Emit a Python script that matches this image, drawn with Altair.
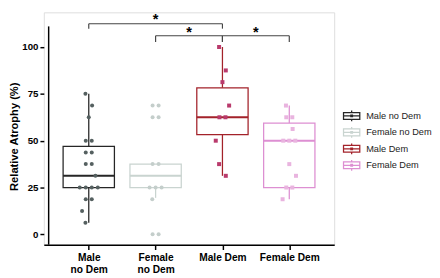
import altair as alt
import pandas as pd

# ---- data ----
groups = ["Male no Dem", "Female no Dem", "Male Dem", "Female Dem"]
tick_labels = [["Male", "no Dem"], ["Female", "no Dem"], ["Male Dem"], ["Female Dem"]]

male_nodem = [75, 68.75, 62.5, 50, 50, 43.75, 43.75, 37.5, 37.5, 31.25,
              25, 25, 25, 25, 18.75, 18.75, 12.5, 6.25]
female_nodem = [68.75, 68.75, 62.5, 62.5, 37.5, 37.5, 25, 25, 25, 18.75, 0, 0]
male_dem = [100, 87.5, 81.25, 68.75, 62.5, 62.5, 50, 37.5, 31.25]
female_dem = [68.75, 62.5, 62.5, 56.25, 50, 50, 50, 37.5, 31.25, 25, 25, 18.75]

q1 = [25, 25, 53.3, 25]
median = [31.25, 31.25, 62.5, 50]
q3 = [47, 37.5, 78.2, 59.4]
whisk_lo = [6.25, 19.5, 31.25, 18.75]
whisk_hi = [75, 37.5, 100, 68.75]

box_colors = ["#262626", "#c9d4d0", "#a3222a", "#dd8fd2"]
point_colors = ["#556060", "#c4cecb", "#b93a6c", "#e9b4df"]
point_shapes = ["circle", "circle", "square", "square"]

# significance brackets (group index from, to, height)
br_from = [0, 1, 2]
br_to = [2, 2, 3]
br_y = [112.4, 106, 106]
br_drop = [2.6, 3.3, 3.3]
star_y = [114.6, 108.0, 108.0]
star_label = ["*", "*", "*"]

x_dom = [-0.6, 3.6]
y_dom = [-5.5, 118.5]
y_axis_top = 111

FONT = "Liberation Sans"

# ---- tables ----
rows = []
for gi, vals in enumerate([male_nodem, female_nodem, male_dem, female_dem]):
    counts = {}
    for v in vals:
        counts[v] = counts.get(v, 0) + 1
    seen = {}
    single_k = 0
    for v in vals:
        k = counts[v]
        j = seen.get(v, 0)
        seen[v] = j + 1
        if k == 1:
            off = [-0.05, 0.05, 0.0, 0.1, -0.1][single_k % 5]
            single_k += 1
        else:
            off = (j - (k - 1) / 2) * 0.09
        rows.append({"xj": gi + off, "value": v,
                     "pc": point_colors[gi], "ps": point_shapes[gi]})
pts = pd.DataFrame(rows)

box = pd.DataFrame({"group": groups, "xi": list(range(4)), "q1": q1, "median": median,
                    "q3": q3, "lo": whisk_lo, "hi": whisk_hi})

hl = pd.DataFrame({"x": br_from, "x2": br_to, "y": br_y})
vl_rows = []
for a, b, y, d in zip(br_from, br_to, br_y, br_drop):
    vl_rows.append({"x": a, "y": y, "y2": y - d})
    vl_rows.append({"x": b, "y": y, "y2": y - d})
vl = pd.DataFrame(vl_rows)
stars = pd.DataFrame({"x": [(a + b) / 2 for a, b in zip(br_from, br_to)],
                      "y": star_y, "t": star_label})

label_expr = " : ".join(
    f"datum.value == {i} ? {repr(lab) if len(lab) > 1 else repr(lab[0])}"
    for i, lab in enumerate(tick_labels[:-1])
) + f" : {repr(tick_labels[-1][0])}"

xscale = alt.Scale(domain=x_dom, nice=False, zero=False)
yscale = alt.Scale(domain=y_dom, nice=False, zero=False)
xaxis = alt.Axis(values=[0, 1, 2, 3], labelExpr=label_expr, title=None, grid=False,
                 labelFontWeight="bold", labelFontSize=10.5, labelColor="black",
                 labelLineHeight=13, labelPadding=3, tickColor="black", tickSize=5,
                 tickWidth=1.5, domainColor="black", domainWidth=1.5)
yaxis = alt.Axis(values=[0, 25, 50, 75, 100], title="Relative Atrophy (%)", grid=False,
                 titleFontSize=11.5, titleFontWeight="bold", titleColor="black",
                 titleY=128, titleAnchor="middle",
                 labelFontWeight="bold", labelFontSize=10, labelColor="black",
                 labelPadding=2, tickColor="black", tickSize=4, tickWidth=1.5,
                 domain=False, titlePadding=3)

color = alt.Color("group:N", scale=alt.Scale(domain=groups, range=box_colors),
                  legend=alt.Legend(title=None, orient="none", legendX=310, legendY=99,
                                    symbolType="M-1.2,-0.5H1.2V0.5H-1.2Z M-1.2,0H1.2 M0,-0.5V-0.8 M0,0.5V0.8 M-0.12,-0.12H0.12V0.12H-0.12Z",
                                    symbolSize=196, symbolStrokeWidth=1.3,
                                    symbolFillColor="transparent",
                                    labelFontSize=9.5, labelColor="#222", labelFont=FONT,
                                    labelOffset=7, rowPadding=-4))

base = alt.Chart(box)
whisk = base.mark_rule(strokeWidth=1.3).encode(
    x=alt.X("xi:Q", scale=xscale, axis=xaxis),
    y=alt.Y("lo:Q", scale=yscale, axis=yaxis), y2="hi:Q", color=color)
boxes = base.mark_bar(size=53, filled=False, strokeWidth=1.3, fill="white").encode(
    x="xi:Q", y="q1:Q", y2="q3:Q", color=color)
med = base.mark_bar(size=53, filled=False, strokeWidth=2).encode(
    x="xi:Q", y="median:Q", y2="median:Q", color=color)

points = alt.Chart(pts).mark_point(filled=True, size=17, opacity=1).encode(
    x="xj:Q", y="value:Q",
    fill=alt.Fill("pc:N", scale=None),
    shape=alt.Shape("ps:N", scale=None))

yline = alt.Chart(pd.DataFrame({"a": [y_dom[0]], "b": [y_axis_top]})).mark_rule(
    color="black", strokeWidth=1.5).encode(x=alt.datum(x_dom[0]), y="a:Q", y2="b:Q")

hlines = alt.Chart(hl).mark_rule(color="#444", strokeWidth=1.2).encode(x="x:Q", x2="x2:Q", y="y:Q")
vlines = alt.Chart(vl).mark_rule(color="#444", strokeWidth=1.2).encode(x="x:Q", y="y:Q", y2="y2:Q")
startext = alt.Chart(stars).mark_text(fontSize=15, fontWeight="bold", color="black",
                                      baseline="middle", font=FONT).encode(
    x="x:Q", y="y:Q", text="t:N")

chart = alt.layer(whisk, boxes, med, points, yline, hlines, vlines, startext).properties(
    width=300, height=240,
    padding={"left": 0, "top": 0, "right": 0, "bottom": 0},
).configure_view(stroke=None).configure(font=FONT)

chart.save("out.html", embed_options={"renderer": "svg", "actions": False})
